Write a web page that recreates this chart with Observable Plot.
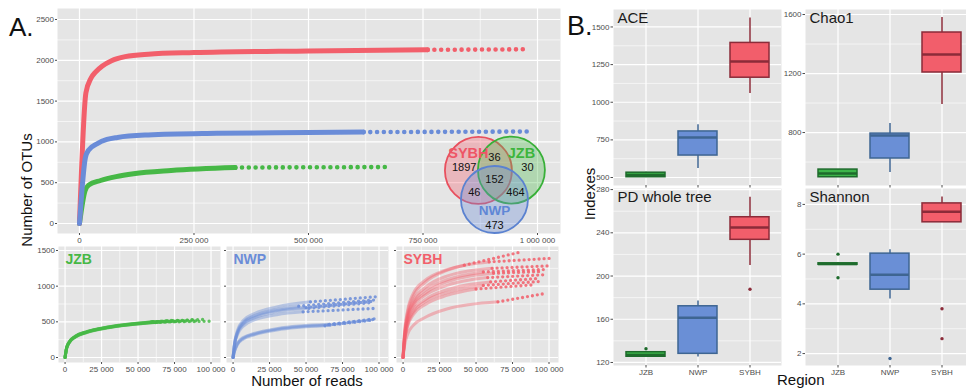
<!DOCTYPE html>
<html><head><meta charset="utf-8">
<script src="https://cdn.jsdelivr.net/npm/d3@7"></script>
<script src="https://cdn.jsdelivr.net/npm/@observablehq/plot@0.6"></script>
<style>
html,body{margin:0;padding:0;background:#fff;}
#root{position:relative;width:966px;height:389px;overflow:hidden;font-family:"Liberation Sans",Arial,sans-serif;}
</style></head><body><div id="root"></div>
<script>
// ---------------- DATA ----------------
// Panel A (main rarefaction curves, pooled per region)
const mainXTicks=[0,250000,500000,750000,1000000];
const mainYTicks=[0,500,1000,1500,2000,2500];
const jzbReads=[0,12000,20000,46000,80000,118000,200000,340000];
const jzbOTUs=[0,400,470,527,575,610,650,686];
const jzbExtReads=[340000,680000];
const jzbExtOTUs=[686,692];
const sybhReads=[0,14000,25000,35000,50000,70000,100000,150000,250000,500000,760000];
const sybhOTUs=[0,1600,1780,1855,1930,1995,2045,2075,2095,2115,2128];
const sybhExtReads=[760000,980000];
const sybhExtOTUs=[2128,2135];
const nwpReads=[0,13000,20000,39000,60000,83000,150000,300000,500000,620000];
const nwpOTUs=[0,810,900,980,1030,1055,1085,1105,1115,1120];
const nwpExtReads=[620000,985000];
const nwpExtOTUs=[1120,1127];

// Venn counts
const vennSets=["SYBH","JZB","NWP"];
const vennRegionNames=["SYBH only","JZB only","NWP only","SYBH∩JZB","SYBH∩NWP","JZB∩NWP","all"];
const vennCounts=[1897,30,473,36,46,464,152];

// Per-sample rarefaction (small panels): OTUs at rareGrid, then solid-end reads, OTUs, last reads, OTUs
const smallXTicks=[0,25000,50000,75000,100000];
const smallYTicks=[0,500,1000,1500];
const rareGrid=[0,1000,3000,7000,15000,30000];
const jzbSamples=[
[0,130,220,295,360,425, 60000,495, 66000,505],
[0,125,215,290,355,420, 61000,492, 70000,510],
[0,135,225,300,365,430, 59000,498, 73000,522],
[0,120,210,285,350,418, 62000,490, 77000,508],
[0,128,218,292,358,426, 60000,496, 80000,526],
[0,132,222,298,362,428, 61000,500, 84000,516],
[0,122,212,288,352,420, 63000,494, 87000,530],
[0,127,217,293,357,424, 62000,497, 91000,514],
[0,133,223,297,363,429, 60000,501, 95000,535],
[0,126,216,291,356,423, 61000,495, 99000,508]];
const nwpSamples=[
[0,200,380,520,620,710, 53000,780, 100000,855],
[0,190,360,495,590,675, 45000,720, 99000,810],
[0,185,350,480,575,660, 50000,700, 97000,790],
[0,170,320,440,530,600, 48000,640, 99000,690],
[0,180,340,465,560,640, 52000,690, 95000,770],
[0,90,190,270,330,395, 65000,455, 99000,540],
[0,85,180,260,320,385, 63000,445, 96000,525],
[0,95,200,280,340,405, 66000,465, 98000,545]];
const sybhSamples=[
[0,350,650,900,1080,1230, 42000,1294, 81000,1480],
[0,330,620,860,1050,1220, 59000,1340, 101000,1390],
[0,300,580,800,980,1140, 61000,1250, 100000,1285],
[0,290,560,770,940,1090, 55000,1200, 99000,1235],
[0,280,540,740,900,1060, 62000,1180, 95000,1205],
[0,260,510,710,870,1010, 58000,1120, 97000,1160],
[0,240,470,660,810,950, 60000,1060, 94000,1110],
[0,230,450,630,780,910, 55000,1010, 96000,1070],
[0,220,430,600,740,870, 50000,960, 90000,1020],
[0,160,320,450,560,680, 65000,780, 98000,900]];

// Panel B (alpha diversity boxplots)
const regions=["JZB","NWP","SYBH"];
const aceQ1=[502,646,1163], aceMed=[517,765,1270], aceQ3=[532,806,1394], aceLo=[500,560,1058], aceHi=[535,850,1560];
const aceTicks=[500,750,1000,1250,1500];
const chaoQ1=[497,624,1207], chaoMed=[522,780,1329], chaoQ3=[549,793,1478], chaoLo=[495,529,990], chaoHi=[550,861,1580];
const chaoTicks=[800,1200,1600];
const pdQ1=[125.3,128,233.5], pdMed=[127,161.5,245], pdQ3=[129.5,172,254.4], pdLo=[124.8,125,209.7], pdHi=[130,177,272.9];
const pdOutRegion=["JZB","SYBH"], pdOutValue=[132.7,187.8];
const pdTicks=[120,160,200,240,280];
const shQ1=[5.57,4.57,7.28], shMed=[5.6,5.17,7.7], shQ3=[5.63,6.02,8.04], shLo=[5.55,4.2,7.28], shHi=[5.65,6.18,8.3];
const shOutRegion=["JZB","JZB","NWP","SYBH","SYBH"], shOutValue=[6.0,5.05,1.8,3.8,2.6];
const shTicks=[2,4,6,8];

// ---------------- STYLE / LAYOUT ----------------
const BG="#E5E5E5";
const COL={JZB:"#46B846", NWP:"#6A8CD8", SYBH:"#F25F6B"};
const boxFill=["#3DB54A","#6A8FD6","#F25E6B"];
const boxLine=["#1E6B2C","#3E6592","#8B2B39"];
const FONT='"Liberation Sans", Arial, sans-serif';
const baseStyle={background:"transparent", fontFamily:FONT, fontSize:"8px", color:"#4d4d4d", overflow:"visible"};
const fmtK=d3.formatLocale({decimal:".", thousands:" ", grouping:[3], currency:["",""]}).format(",");
const root=document.getElementById("root");
function place(el,left,top){el.style.position="absolute";el.style.left=left+"px";el.style.top=top+"px";root.appendChild(el);}
function minorOf(t,dom){const s=t[1]-t[0];const m=[t[0]-s/2,...t.map(v=>v+s/2)];return m.filter(v=>v>=dom[0]&&v<=dom[1]);}
function gridMarks(xt,xdom,yt,ydom){return [
  Plot.frame({fill:BG,stroke:"none"}),
  Plot.ruleX(minorOf(xt,xdom),{stroke:"#fff",strokeWidth:0.6}),
  Plot.ruleY(minorOf(yt,ydom),{stroke:"#fff",strokeWidth:0.6}),
  Plot.ruleX(xt,{stroke:"#fff",strokeWidth:1.2}),
  Plot.ruleY(yt,{stroke:"#fff",strokeWidth:1.2})];}

// Venn layout (data coordinates of main panel)
const vennCirclePos=[[871000,650],[943000,655],[906000,294]];
const vennSetLabelPos=[[849000,854],[965000,854],[906000,159]];
const vennCountPos=[[840000,686],[978000,686],[906000,-25],[906000,809],[862000,380],[952000,380],[906000,539]];

// ---------------- PANEL A MAIN ----------------
{
  const xdom=[-48000,1050200], ydom=[-122.5,2634.8];
  const ser=(reads,otus)=>reads.map((x,i)=>({x,y:otus[i]}));
  const venC=vennSets.map((s,i)=>({s,x:vennCirclePos[i][0],y:vennCirclePos[i][1]}));
  const venL=vennSets.map((s,i)=>({s,x:vennSetLabelPos[i][0],y:vennSetLabelPos[i][1]}));
  const venN=vennCounts.map((n,i)=>({n,x:vennCountPos[i][0],y:vennCountPos[i][1]}));
  const curve=(reads,otus,extR,extO,c)=>[
    Plot.line(ser(reads,otus),{x:"x",y:"y",stroke:c,strokeWidth:5,curve:"monotone-x"}),
    Plot.line(ser(extR,extO),{x:"x",y:"y",stroke:c,strokeWidth:4.6,strokeDasharray:"0 6.8",strokeLinecap:"round"})];
  const p=Plot.plot({
    width:570,height:252,marginLeft:57,marginRight:10,marginTop:8,marginBottom:19,
    style:baseStyle, x:{domain:xdom}, y:{domain:ydom},
    marks:[
      ...gridMarks(mainXTicks,xdom,mainYTicks,ydom),
      Plot.axisX(mainXTicks,{tickFormat:fmtK,tickSize:2,tickPadding:1.5,label:null,fontSize:8}),
      Plot.axisY(mainYTicks,{tickFormat:d=>String(d),tickSize:2,tickPadding:1.5,label:null,fontSize:8}),
      ...curve(jzbReads,jzbOTUs,jzbExtReads,jzbExtOTUs,COL.JZB),
      ...curve(sybhReads,sybhOTUs,sybhExtReads,sybhExtOTUs,COL.SYBH),
      ...curve(nwpReads,nwpOTUs,nwpExtReads,nwpExtOTUs,COL.NWP),
      Plot.dot(venC,{x:"x",y:"y",r:33.5,fill:d=>({SYBH:"#F06070",JZB:"#4CBB4C",NWP:"#6A8CD8"})[d.s],fillOpacity:0.35,
        stroke:d=>({SYBH:"#E8505E",JZB:"#38B038",NWP:"#5B82D0"})[d.s],strokeWidth:1.8}),
      Plot.text(venL,{x:"x",y:"y",text:"s",fontSize:d=>d.s==="NWP"?13.5:14.5,fontWeight:"bold",fill:d=>({SYBH:"#EE5566",JZB:"#3DB53D",NWP:"#5F86D6"})[d.s]}),
      Plot.text(venN,{x:"x",y:"y",text:d=>String(d.n),fontSize:11,fill:"#111"})
    ]});
  place(p,0,0);
}

// ---------------- PANEL A SMALL ----------------
function smallPanel(samples,color,label,left,ml,showY){
  const xdom=[-4500,106500], ydom=[-70,1556];
  const rows=[],ext=[];
  samples.forEach((s,i)=>{
    rareGrid.forEach((x,j)=>rows.push({s:i,x,y:s[j]}));
    rows.push({s:i,x:s[6],y:s[7]});
    ext.push({s:i,x:s[6],y:s[7]},{s:i,x:s[8],y:s[9]});
  });
  const p=Plot.plot({
    width:ml+162+6,height:136,marginLeft:ml,marginRight:6,marginTop:4,marginBottom:16,
    style:baseStyle,x:{domain:xdom},y:{domain:ydom},
    marks:[
      ...gridMarks(smallXTicks,xdom,smallYTicks,ydom),
      Plot.axisX(smallXTicks,{tickFormat:fmtK,tickSize:2,tickPadding:1.5,label:null,fontSize:8}),
      showY?Plot.axisY(smallYTicks,{tickFormat:d=>String(d),tickSize:2,tickPadding:1.5,label:null,fontSize:8})
           :Plot.axisY(smallYTicks,{tickSize:2,tickFormat:()=>"",label:null}),
      Plot.line(rows,{x:"x",y:"y",z:"s",stroke:color,strokeOpacity:0.4,strokeWidth:3,curve:"monotone-x"}),
      Plot.line(ext,{x:"x",y:"y",z:"s",stroke:color,strokeOpacity:0.85,strokeWidth:3.3,strokeDasharray:"0 5",strokeLinecap:"round"}),
      Plot.text([label],{text:d=>d,frameAnchor:"top-left",dx:7,dy:8,fontSize:14,fontWeight:"bold",fill:color,lineAnchor:"top",textAnchor:"start"})
    ]});
  place(p,left,242);
}
smallPanel(jzbSamples,COL.JZB,"JZB",0,58,true);
smallPanel(nwpSamples,COL.NWP,"NWP",216,10,false);
smallPanel(sybhSamples,COL.SYBH,"SYBH",386,10,false);

// ---------------- PANEL B ----------------
function boxPanel(o){
  const data=regions.map((r,i)=>({r,q1:o.q1[i],med:o.med[i],q3:o.q3[i],lo:o.lo[i],hi:o.hi[i],fill:boxFill[i],line:boxLine[i]}));
  const outs=(o.outR||[]).map((r,i)=>({r,v:o.outV[i],line:boxLine[regions.indexOf(r)]}));
  const p=Plot.plot({
    width:o.ml+168+6,height:o.mt+o.fh+o.mb,marginLeft:o.ml,marginRight:6,marginTop:o.mt,marginBottom:o.mb,
    style:baseStyle,color:{type:"identity"},
    x:{type:"band",domain:regions,paddingInner:0.25,paddingOuter:0.225},
    y:{domain:o.ydom},
    marks:[
      Plot.frame({fill:BG,stroke:"none"}),
      Plot.ruleY(minorOf(o.ticks,o.ydom),{stroke:"#fff",strokeWidth:0.6}),
      Plot.ruleY(o.ticks,{stroke:"#fff",strokeWidth:1.2}),
      Plot.ruleX(regions,{stroke:"#fff",strokeWidth:1.2}),
      Plot.axisY(o.ticks,{tickFormat:d=>String(d),tickSize:2.5,tickPadding:1.5,label:null,fontSize:8}),
      Plot.axisX(regions,{tickSize:2.5,tickPadding:1.5,label:null,fontSize:8,tickFormat:o.xLabels?(d=>d):(()=>"")}),
      Plot.ruleX(data,{x:"r",y1:"lo",y2:"hi",stroke:"line",strokeWidth:1.5}),
      Plot.barY(data,{x:"r",y1:"q1",y2:"q3",fill:"fill",stroke:"line",strokeWidth:1.5}),
      Plot.tickY(data,{x:"r",y:"med",stroke:"line",strokeWidth:2.5}),
      Plot.dot(outs,{x:"r",y:"v",r:1.7,fill:"line",stroke:"none"}),
      Plot.text([o.title],{text:d=>d,frameAnchor:"top-left",dx:4,dy:3,fontSize:15,fill:"#1a1a1a",lineAnchor:"top",textAnchor:"start"})
    ]});
  place(p,o.left,o.top);
}
boxPanel({title:"ACE",q1:aceQ1,med:aceMed,q3:aceQ3,lo:aceLo,hi:aceHi,ticks:aceTicks,ydom:[447,1616],left:570,top:0,ml:43,mt:9,fh:176,mb:6,xLabels:false});
boxPanel({title:"Chao1",q1:chaoQ1,med:chaoMed,q3:chaoQ3,lo:chaoLo,hi:chaoHi,ticks:chaoTicks,ydom:[441,1634],left:770,top:0,ml:35,mt:9,fh:176,mb:6,xLabels:false});
boxPanel({title:"PD whole tree",q1:pdQ1,med:pdMed,q3:pdQ3,lo:pdLo,hi:pdHi,outR:pdOutRegion,outV:pdOutValue,ticks:pdTicks,ydom:[117.2,281],left:570,top:180,ml:43,mt:8,fh:177,mb:16,xLabels:true});
boxPanel({title:"Shannon",q1:shQ1,med:shMed,q3:shQ3,lo:shLo,hi:shHi,outR:shOutRegion,outV:shOutValue,ticks:shTicks,ydom:[1.52,8.64],left:770,top:180,ml:35,mt:8,fh:177,mb:16,xLabels:true});

// ---------------- OVERLAY LABELS ----------------
{
  const ov=d3.create("svg").attr("width",966).attr("height",389)
    .style("position","absolute").style("left","0px").style("top","0px")
    .style("pointer-events","none").style("font-family",FONT);
  const t=(x,y,s,size,rot)=>{const e=ov.append("text").attr("fill","#111").attr("font-size",size).text(s);
    if(rot){e.attr("transform",`translate(${x},${y}) rotate(-90)`).attr("text-anchor","middle");}else{e.attr("x",x).attr("y",y);} return e;};
  t(9,36,"A.",26);
  t(567,35,"B.",27);
  t(32,190,"Number of OTUs",15,true);
  t(307,386,"Number of reads",15).attr("text-anchor","middle");
  t(595,194,"Indexes",15,true);
  t(777,385,"Region",15);
  root.appendChild(ov.node());
}
</script></body></html>
